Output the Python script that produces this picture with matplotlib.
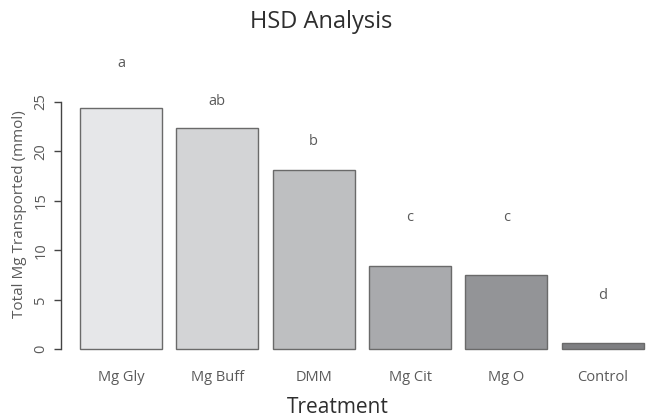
import matplotlib
matplotlib.use("Agg")
import matplotlib.pyplot as plt
import numpy as np

# HSD analysis: total Mg transported per treatment
treatments = ["Mg Gly", "Mg Buff", "DMM", "Mg Cit", "Mg O", "Control"]
totals = [24.36, 22.4, 18.1, 8.4, 7.5, 0.57]
groups = ["a", "ab", "b", "c", "c", "d"]
group_y = [28.9, 25.0, 21.05, 13.3, 13.3, 5.4]
bar_colors = ["#e6e7e9", "#d3d4d6", "#bebfc1", "#a9aaad", "#939497", "#7e7f82"]

plt.rcParams["font.family"] = ["Open Sans", "DejaVu Sans"]
txt = "#5a5a5a"

fig = plt.figure(figsize=(6.48, 4.19), dpi=100)
ax = fig.add_axes([60.7 / 648, 70 / 419, (648 - 60.7) / 648, 299 / 419])

x = np.arange(len(treatments))
ax.bar(x, totals, width=0.85, color=bar_colors, edgecolor="#6a6a6a",
       linewidth=1.0, clip_on=False)
for xi, g, gy in zip(x, groups, group_y):
    ax.text(xi, gy, g, ha="center", va="center", fontsize=10.5, color=txt)

ax.set_xlim(-0.626, 5.47)
ax.set_ylim(0, 30.26)

for s in ["top", "right", "bottom"]:
    ax.spines[s].set_visible(False)
ax.spines["left"].set_bounds(0, 25)
ax.spines["left"].set_color("#444444")
ax.spines["left"].set_linewidth(1.0)

ax.set_yticks([0, 5, 10, 15, 20, 25])
ax.tick_params(axis="y", direction="out", length=5, width=1.0,
               color="#444444", labelcolor=txt, labelsize=10.5, pad=4)
for lab in ax.get_yticklabels():
    lab.set_rotation(90)
    lab.set_va("center")

ax.set_xticks(x)
ax.set_xticklabels(treatments)
ax.tick_params(axis="x", length=0, labelcolor=txt, labelsize=10.5, pad=15)

fig.text(20 / 648, 1 - 214 / 419, "Total Mg Transported (mmol)", rotation=90,
         ha="center", va="center", fontsize=11, color=txt)
fig.text(321 / 648, 1 - 22 / 419, "HSD Analysis", ha="center", va="center",
         fontsize=17, color="#2e2e2e")
fig.text(338 / 648, 1 - 407 / 419, "Treatment", ha="center", va="center",
         fontsize=15, color="#2e2e2e")

fig.savefig("out.png", dpi=100)
